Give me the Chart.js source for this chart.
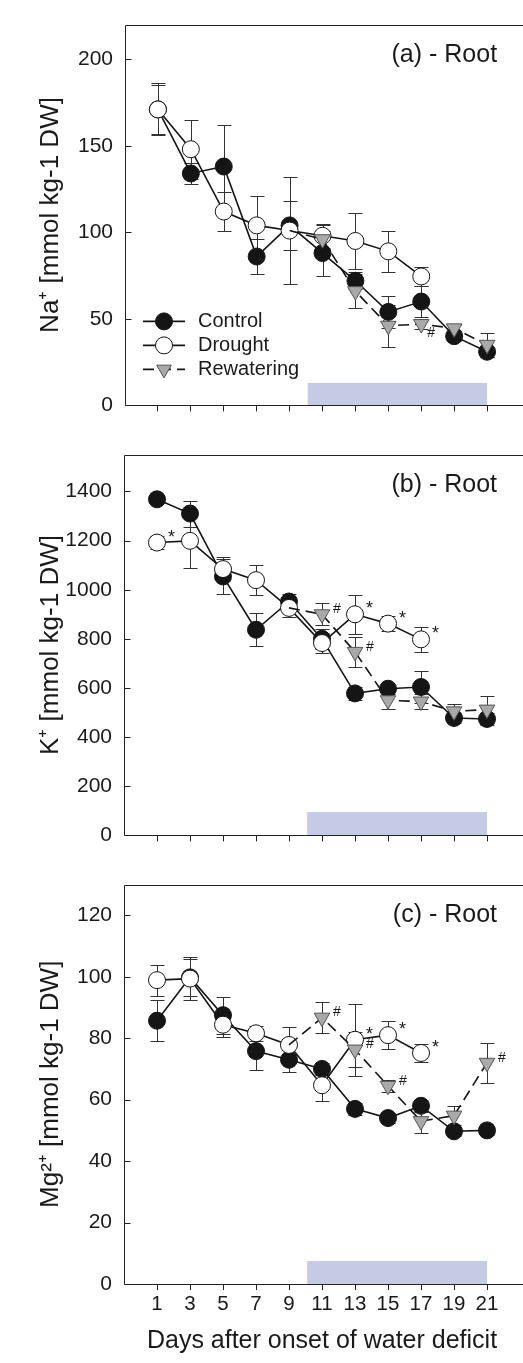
<!DOCTYPE html>
<html>
<head>
<meta charset="utf-8">
<script src="https://cdn.jsdelivr.net/npm/chart.js@4.4.1/dist/chart.umd.min.js"></script>
<style>
  html, body { margin: 0; padding: 0; background: #fff; overflow: hidden; }
  .panel { position: absolute; left: 0; width: 530px; }
</style>
</head>
<body>
<div class="panel" style="top:0;height:430px"><canvas id="naChart" width="530" height="430"></canvas></div>
<div class="panel" style="top:430px;height:430px"><canvas id="kChart" width="530" height="430"></canvas></div>
<div class="panel" style="top:860px;height:503px"><canvas id="mgChart" width="530" height="503"></canvas></div>
<script>
const days = [1, 3, 5, 7, 9, 11, 13, 15, 17, 19, 21];

// (a) Na+
const naControl    = [171, 134, 138, 86, 104, 88, 72, 54, 60, 40, 31];
const naControlErr = [15, 6, 24, 10, 14, 13, 5, 9, 9, 3, 3];
const naDrought    = [171, 148, 112, 104, 101, 98, 95, 89, 74.5, null, null];
const naDroughtErr = [14, 17, 11, 17, 31, 7, 16, 12, 5.5, null, null];
const naRewater    = [null, null, null, null, 101, 96, 66, 46, 47, 44.5, 35];
const naRewaterErr = [null, null, null, null, 0, 8, 10, 12, 3, 2, 7];
const naDroughtMarks = ['', '', '', '', '', '', '', '', '', '', ''];
const naRewaterMarks = ['', '', '', '', '', '', '', '', '#', '', ''];

// (b) K+
const kControl    = [1368, 1310, 1054, 837, 952, 800, 578, 597, 604, 478, 474];
const kControlErr = [15, 53, 70, 67, 30, 40, 25, 20, 65, 20, 25];
const kDrought    = [1192, 1199, 1084, 1039, 926, 783, 900, 862, 798, null, null];
const kDroughtErr = [27, 110, 50, 60, 35, 40, 80, 30, 50, null, null];
const kRewater    = [null, null, null, null, 926, 900, 747, 550, 545, 505, 512];
const kRewaterErr = [null, null, null, null, 0, 45, 60, 35, 30, 30, 55];
const kDroughtMarks = ['*', '', '', '', '', '', '*', '*', '*', '', ''];
const kRewaterMarks = ['', '', '', '', '', '#', '#', '', '', '', ''];

// (c) Mg2+
const mgControl    = [85.7, 99.8, 87.5, 75.8, 73, 70, 57, 54, 58, 49.7, 50];
const mgControlErr = [6.7, 6, 6, 6, 4, 2, 2, 1.5, 2, 1.5, 1.5];
const mgDrought    = [98.9, 99.4, 84.4, 81.6, 77.8, 64.7, 79.5, 81, 75.2, null, null];
const mgDroughtErr = [5, 7, 4, 2.5, 6, 5, 11.7, 4.5, 3, null, null];
const mgRewater    = [null, null, null, null, 77.8, 86.7, 76.3, 64.5, 53, 54.8, 72];
const mgRewaterErr = [null, null, null, null, 0, 5, 5.6, 2, 4, 3, 6.5];
const mgDroughtMarks = ['', '', '', '', '', '', '*', '*', '*', '', ''];
const mgRewaterMarks = ['', '', '', '', '', '#', '#', '#', '', '', '#'];

// water deficit period (blue bar), in days
const stressSpan = [10.1, 21];

const FONT = "'Liberation Sans', Arial, sans-serif";

function pack(values, errs, marks) {
  var pts = [], e = [], m = [];
  values.forEach(function (v, i) {
    if (v === null) return;
    pts.push({ x: days[i], y: v });
    e.push(errs[i] || 0);
    m.push(marks ? marks[i] : '');
  });
  return { pts: pts, e: e, m: m };
}

const decorPlugin = {
  id: 'decor',
  beforeDatasetsDraw(chart, args, opts) {
    const { ctx, chartArea: a, scales: { x, y } } = chart;
    ctx.save();
    // blue bar
    const x0 = x.getPixelForValue(stressSpan[0]), x1 = x.getPixelForValue(stressSpan[1]);
    const yt = y.getPixelForValue(opts.shadeTop), yb = y.getPixelForValue(0);
    ctx.fillStyle = '#c6cbe5';
    ctx.fillRect(x0, yt, x1 - x0, yb - yt);
    // error bars
    ctx.strokeStyle = '#333';
    ctx.lineWidth = 1;
    chart.data.datasets.forEach(function (ds) {
      ds.data.forEach(function (p, i) {
        const err = ds.errors[i];
        if (!err) return;
        const px = Math.round(x.getPixelForValue(p.x)) + 0.5;
        const y1 = Math.round(y.getPixelForValue(p.y + err)) + 0.5;
        const y2 = Math.round(y.getPixelForValue(p.y - err)) + 0.5;
        ctx.beginPath();
        ctx.moveTo(px, y1); ctx.lineTo(px, y2);
        ctx.moveTo(px - 7, y1); ctx.lineTo(px + 7, y1);
        ctx.moveTo(px - 7, y2); ctx.lineTo(px + 7, y2);
        ctx.stroke();
      });
    });
    ctx.restore();
  },
  afterDraw(chart, args, opts) {
    const { ctx, chartArea: a, scales: { x, y } } = chart;
    ctx.save();
    // frame
    ctx.strokeStyle = '#222';
    ctx.lineWidth = 1;
    const L = Math.round(a.left) + 0.5, T = Math.round(a.top) + 0.5, B = Math.round(a.bottom) + 0.5;
    ctx.beginPath();
    ctx.moveTo(a.right + 5, T); ctx.lineTo(L, T); ctx.lineTo(L, B); ctx.lineTo(a.right + 5, B);
    ctx.stroke();
    // inward y ticks
    y.ticks.forEach(function (t) {
      const py = Math.round(y.getPixelForValue(t.value)) + 0.5;
      ctx.beginPath(); ctx.moveTo(L, py); ctx.lineTo(L + 6, py); ctx.stroke();
    });
    // panel label
    ctx.fillStyle = '#1a1a1a';
    ctx.font = '25px ' + FONT;
    ctx.textAlign = 'right';
    ctx.textBaseline = 'alphabetic';
    ctx.fillText(opts.label, x.getPixelForValue(21) + 10, a.top + 37);
    // significance marks
    ctx.textAlign = 'left';
    ctx.textBaseline = 'middle';
    chart.data.datasets.forEach(function (ds) {
      ds.data.forEach(function (p, i) {
        const mk = ds.marks[i];
        if (!mk) return;
        ctx.font = (mk === '*' ? '18px ' : '14px ') + FONT;
        const dx = mk === '*' ? 11 : (opts.markDy > 0 ? 6 : 11);
        const dy = mk === '*' ? -5 : opts.markDy;
        ctx.fillText(mk, x.getPixelForValue(p.x) + dx, y.getPixelForValue(p.y) + dy);
      });
    });
    // legend
    if (opts.legend) {
      const lx = a.left + 18;
      chart.data.datasets.forEach(function (ds, k) {
        const yy = a.bottom - 84 + k * 24;
        ctx.strokeStyle = ds.borderColor;
        ctx.lineWidth = ds.borderWidth;
        ctx.setLineDash(ds.borderDash || []);
        ctx.beginPath(); ctx.moveTo(lx, yy); ctx.lineTo(lx + 42, yy); ctx.stroke();
        ctx.setLineDash([]);
        ctx.fillStyle = ds.pointBackgroundColor;
        ctx.strokeStyle = ds.pointBorderColor;
        ctx.lineWidth = 1;
        Chart.helpers.drawPoint(ctx, { pointStyle: ds.pointStyle, rotation: ds.pointRotation || 0, radius: 8.5, borderWidth: 1 }, lx + 21, yy);
        ctx.fillStyle = '#1a1a1a';
        ctx.font = '20px ' + FONT;
        ctx.textAlign = 'left';
        ctx.textBaseline = 'middle';
        ctx.fillText(ds.label, lx + 55, yy);
      });
    }
    ctx.restore();
  }
};

function makePanel(id, cfg) {
  const c = pack(cfg.control, cfg.controlErr, null);
  const d = pack(cfg.drought, cfg.droughtErr, cfg.droughtMarks);
  const r = pack(cfg.rewater, cfg.rewaterErr, cfg.rewaterMarks);
  const canvas = document.getElementById(id);
  const H = canvas.height;

  return new Chart(canvas.getContext('2d'), {
    type: 'line',
    data: {
      datasets: [
        {
          label: 'Control', data: c.pts, errors: c.e, marks: c.m, order: 3,
          borderColor: '#151515', borderWidth: 1.6,
          pointStyle: 'circle', pointRadius: 8.5, pointBorderWidth: 1,
          pointBackgroundColor: '#151515', pointBorderColor: '#151515'
        },
        {
          label: 'Drought', data: d.pts, errors: d.e, marks: d.m, order: 2,
          borderColor: '#151515', borderWidth: 1.6,
          pointStyle: 'circle', pointRadius: 8.5, pointBorderWidth: 1,
          pointBackgroundColor: '#ffffff', pointBorderColor: '#151515'
        },
        {
          label: 'Rewatering', data: r.pts, errors: r.e, marks: r.m, order: 1,
          borderColor: '#151515', borderWidth: 1.6, borderDash: [11, 6],
          pointStyle: 'triangle', pointRotation: 180, pointBorderWidth: 1,
          pointRadius: r.pts.map(function (p, i) { return i === 0 ? 0 : 9; }),
          pointBackgroundColor: '#a9a9a9', pointBorderColor: '#555555'
        }
      ]
    },
    options: {
      responsive: false,
      animation: false,
      events: [],
      layout: { padding: { top: cfg.top, right: 530 - (cfg.left + 404), left: 0, bottom: 0 } },
      elements: { line: { tension: 0 } },
      plugins: {
        legend: { display: false },
        tooltip: { enabled: false },
        decor: { label: cfg.label, shadeTop: cfg.shadeTop, legend: !!cfg.legend, markDy: cfg.markDy || -5 }
      },
      scales: {
        x: {
          type: 'linear', min: -1, max: 23,
          afterBuildTicks: function (s) { s.ticks = days.map(function (v) { return { value: v }; }); },
          afterFit: function (s) { s.height = H - cfg.bottom; },
          grid: { display: true, drawOnChartArea: false, drawTicks: true, tickLength: 6, color: '#222', lineWidth: 1 },
          border: { display: false },
          ticks: { display: !!cfg.showX, autoSkip: false, maxRotation: 0, padding: 2, color: '#1a1a1a', font: { family: FONT, size: 20.5 } },
          title: { display: !!cfg.showX, text: 'Days after onset of water deficit', color: '#1a1a1a', font: { family: FONT, size: 25 }, padding: { top: 0, bottom: 7 } }
        },
        y: {
          min: 0, max: cfg.yMax,
          afterFit: function (s) { s.width = cfg.left; },
          grid: { display: false, drawTicks: false },
          border: { display: false },
          ticks: {
            stepSize: cfg.step, includeBounds: false, padding: 12, color: '#1a1a1a', font: { family: FONT, size: 21 },
            callback: function (v) { return String(v); }
          },
          title: { display: true, text: cfg.yTitle, color: '#1a1a1a', font: { family: FONT, size: 26 }, padding: { top: 35, bottom: 0 } }
        }
      }
    },
    plugins: [decorPlugin]
  });
}

makePanel('naChart', {
  control: naControl, controlErr: naControlErr,
  drought: naDrought, droughtErr: naDroughtErr, droughtMarks: naDroughtMarks,
  rewater: naRewater, rewaterErr: naRewaterErr, rewaterMarks: naRewaterMarks,
  yMax: 220, step: 50, shadeTop: 13, label: '(a) - Root', markDy: 9,
  yTitle: 'Na\u207A [mmol kg-1 DW]', left: 125, top: 10, bottom: 414, legend: true
});

makePanel('kChart', {
  control: kControl, controlErr: kControlErr,
  drought: kDrought, droughtErr: kDroughtErr, droughtMarks: kDroughtMarks,
  rewater: kRewater, rewaterErr: kRewaterErr, rewaterMarks: kRewaterMarks,
  yMax: 1550, step: 200, shadeTop: 95, label: '(b) - Root',
  yTitle: 'K\u207A [mmol kg-1 DW]', left: 124, top: 13, bottom: 417
});

makePanel('mgChart', {
  control: mgControl, controlErr: mgControlErr,
  drought: mgDrought, droughtErr: mgDroughtErr, droughtMarks: mgDroughtMarks,
  rewater: mgRewater, rewaterErr: mgRewaterErr, rewaterMarks: mgRewaterMarks,
  yMax: 130, step: 20, shadeTop: 7.5, label: '(c) - Root',
  yTitle: 'Mg\u00B2\u207A [mmol kg-1 DW]', left: 124, top: 19, bottom: 424, showX: true
});
</script>
</body>
</html>
